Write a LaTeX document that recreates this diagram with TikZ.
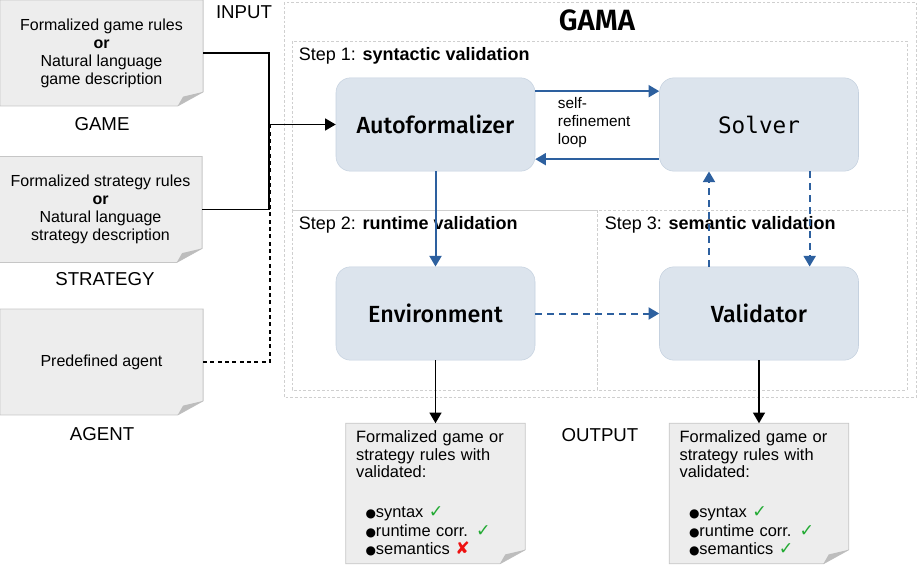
\documentclass[tikz,border=0pt]{standalone}
\usepackage{fontspec}
\setmainfont{Liberation Sans}
\newfontfamily\boxfont{Fira Sans}[UprightFont={* Medium}, BoldFont={* SemiBold}]
\newfontfamily\monofont{DejaVu Sans Mono}
\newfontfamily\symfont{DejaVu Sans}
\usepackage{xcolor}
\usetikzlibrary{positioning, arrows.meta}
\pgfdeclarelayer{background}
\pgfsetlayers{background,main}

\definecolor{boxfill}{HTML}{DCE4ED}
\definecolor{boxline}{HTML}{C5D1DF}
\definecolor{docfill}{HTML}{EDEDED}
\definecolor{docline}{HTML}{C6C6C6}
\definecolor{foldgray}{HTML}{BDBDBD}
\definecolor{loopblue}{HTML}{2D609F}
\definecolor{okgreen}{HTML}{22AA33}
\definecolor{badred}{HTML}{EE1111}
\definecolor{framegray}{HTML}{CFCFCF}

\newcommand{\ok}{{\symfont\color{okgreen}\fontsize{13}{13}\selectfont ✓}}
\newcommand{\bad}{{\symfont\color{badred}\fontsize{13}{13}\selectfont ✘}}
\newcommand{\bul}{{\symfont\fontsize{9}{9}\selectfont ●}}

\begin{document}
\begin{tikzpicture}[
  x=0.75pt, y=-0.75pt,
  every node/.style={inner sep=2pt},
  doc/.style={minimum width=152pt, minimum height=79pt, inner sep=0pt,
    align=center, font=\fontsize{12}{13.5}\selectfont},
  outdoc/.style={minimum width=134.25pt, minimum height=105pt, inner xsep=7.5pt,
    inner ysep=0pt, text width=119pt, align=left, font=\fontsize{12.3}{13}\selectfont},
  tag/.style={font=\fontsize{14}{16}\selectfont},
  blk/.style={rounded corners=11pt, fill=boxfill, draw=boxline, minimum width=149.25pt,
    minimum height=70pt, font=\boxfont\fontsize{17.5}{20}\selectfont},
  steplbl/.style={anchor=west, font=\fontsize{13.5}{16}\selectfont},
  frame/.style={draw=framegray, dash pattern=on 2pt off 1.5pt, line width=0.5pt},
  arrow/.style={-{Triangle[length=8pt,width=9pt]}, line width=1.1pt},
  bluearrow/.style={arrow, loopblue, line width=1.5pt},
  dasharrow/.style={bluearrow, dash pattern=on 5pt off 4pt}
]
\useasboundingbox (0,0) rectangle (917,564);

% frames of GAMA and its three steps
\draw[frame] (284,2) rectangle (916,397);
\draw[frame] (292,41) rectangle (907,210);
\draw[frame] (292,210) rectangle (597,390);
\draw[frame] (597,210) rectangle (907,390);

\node[font=\boxfont\bfseries\fontsize{22}{24}\selectfont] (gama) at (597,20) {GAMA};
\node[steplbl] (step1) at (296,56) {Step 1: \textbf{syntactic validation}};
\node[steplbl] (step2) at (296,225) {Step 2: \textbf{runtime validation}};
\node[steplbl] (step3) at (602,225) {Step 3: \textbf{semantic validation}};

% inputs
\node[doc] (game) at (101.5,53) {Formalized game rules\\\textbf{or}\\Natural language\\game description};
\node[doc] (strat) at (100.5,209.5) {Formalized strategy rules\\\textbf{or}\\Natural language\\strategy description};
\node[doc] (agent) at (101.5,362) {Predefined agent};
\node[tag] (gamelbl) at (102,124) {GAME};
\node[tag] (stratlbl) at (105,279) {STRATEGY};
\node[tag] (agentlbl) at (102,434) {AGENT};
\node[tag] (inlbl) at (244,12) {INPUT};

% GAMA blocks
\node[blk] (auto) at (435.5,124.5) {Autoformalizer};
\node[blk, font=\monofont\fontsize{17}{19}\selectfont] (solver) at (759,124.5) {Solver};
\node[blk] (env) at (435.5,313.5) {Environment};
\node[blk] (val) at (759,313.5) {Validator};
\node[anchor=west, align=left, font=\fontsize{11.5}{13.5}\selectfont] (loop) at (555,123) {self-\\refinement\\loop};

% outputs
\node[outdoc] (outA) at (435.5,493.5) {Formalized game or\\strategy rules with\\validated:\\[17pt]
  \hspace*{7pt}\bul syntax \ok\\[1pt]
  \hspace*{7pt}\bul runtime corr. \ok\\[1pt]
  \hspace*{7pt}\bul semantics \bad};
\node[outdoc] (outB) at (759,493.5) {Formalized game or\\strategy rules with\\validated:\\[17pt]
  \hspace*{7pt}\bul syntax \ok\\[1pt]
  \hspace*{7pt}\bul runtime corr. \ok\\[1pt]
  \hspace*{7pt}\bul semantics \ok};
\node[tag] (outlbl) at (600,435) {OUTPUT};

% folded paper sheets
\begin{pgfonlayer}{background}
\foreach \d in {game,strat,agent,outA,outB} {
  \filldraw[fill=docfill, draw=docline, line width=0.6pt] (\d.north west) -- (\d.north east)
    -- ([yshift=10.5pt]\d.south east) -- ([xshift=-19pt]\d.south east) -- (\d.south west) -- cycle;
  \fill[foldgray] ([yshift=10.5pt]\d.south east) -- ([xshift=-19pt]\d.south east)
    -- ([xshift=-15pt,yshift=7pt]\d.south east) -- cycle;
}
\end{pgfonlayer}

% connectors
\coordinate (join) at (269,124.5);
\draw[line width=1.1pt] (game.east) -| (join);
\draw[line width=1.1pt] (strat.east) -| (join);
\draw[line width=1.1pt, dash pattern=on 3pt off 2.5pt] (agent.east) -| ([xshift=0.75pt]join);
\draw[arrow] (join) -- (auto.west);

\draw[bluearrow] ([yshift=25pt]auto.east) -- ([yshift=25pt]solver.west);
\draw[bluearrow] ([yshift=-26pt]solver.west) -- ([yshift=-26pt]auto.east);
\draw[bluearrow] (auto.south) -- (env.north);
\draw[dasharrow] (env.east) -- (val.west);
\draw[dasharrow] ([xshift=-37.5pt]val.north) -- ([xshift=-37.5pt]solver.south);
\draw[dasharrow] ([xshift=38pt]solver.south) -- ([xshift=38pt]val.north);

\draw[arrow] (env.south) -- (env.south |- outA.north);
\draw[arrow] (val.south) -- (val.south |- outB.north);
\end{tikzpicture}
\end{document}
